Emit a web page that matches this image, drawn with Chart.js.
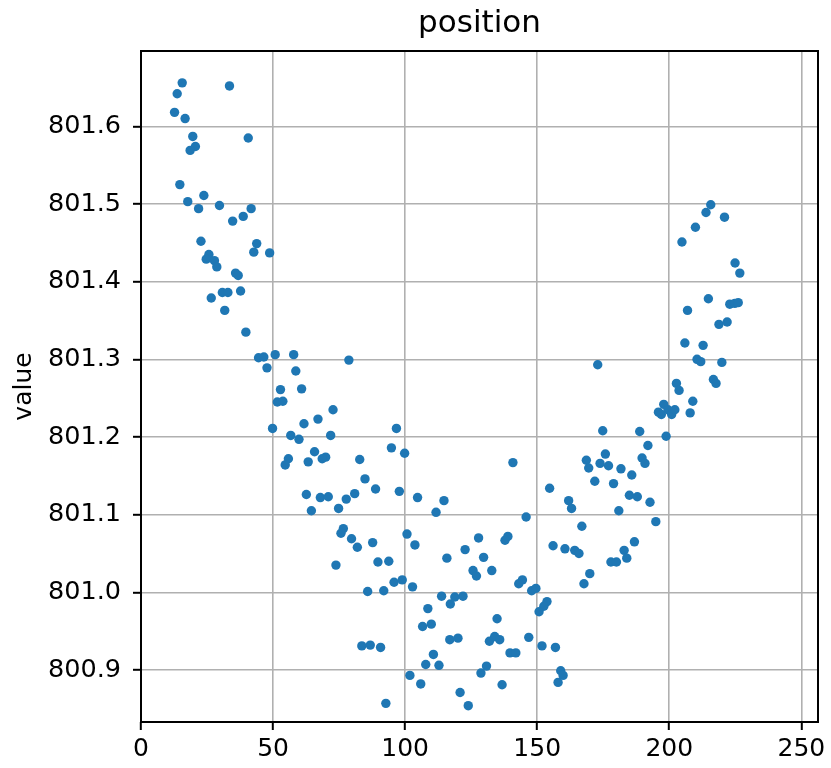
<!DOCTYPE html>
<html>
<head>
<meta charset="utf-8">
<script src="https://cdn.jsdelivr.net/npm/chart.js@4"></script>
<style>
html, body { margin: 0; padding: 0; background: #fff; }
</style>
</head>
<body>
<canvas id="chart" width="831" height="768"></canvas>
<script>
// values
const xValues = [
    15.6, 33.5, 13.7, 12.7, 16.7, 19.6, 20.6, 18.6, 40.6, 14.7, 17.7, 23.8, 21.8, 29.7, 41.7, 38.7,
    34.7, 22.7, 43.8, 42.7, 48.7, 25.7, 24.7, 27.8, 28.7, 35.8, 36.8, 26.6, 30.8, 32.9, 37.7,
    31.7, 39.7, 44.5, 46.5, 50.8, 57.8, 47.7, 58.6, 52.8, 60.8, 51.6, 53.7, 49.8, 61.7, 56.7, 59.8,
    55.8, 54.6, 63.3, 62.6, 64.5,
    78.7, 72.7, 67.0, 71.8, 96.7, 94.8, 99.8, 65.7, 69.9, 68.6, 82.8, 84.8, 88.8, 97.8, 104.7, 114.7,
    111.7, 67.9, 70.9, 80.9, 77.7, 74.8, 76.6,
    75.7, 79.7, 81.9, 87.7, 100.7, 103.7, 115.8, 73.8, 89.7, 93.8, 95.8, 98.9, 102.8, 85.8, 91.9, 113.8,
    117.1, 108.6, 106.6, 109.9, 116.9, 83.6, 86.8, 90.7, 110.7, 107.8, 112.8, 101.8, 105.9, 92.7,
    140.8, 154.7, 168.6, 169.5, 161.9, 163.0, 166.9, 145.8, 127.8, 138.9,
    137.8, 122.7, 129.7, 156.0, 160.5, 164.2, 165.8, 125.7, 127.0, 132.8, 144.4, 143.0, 167.7, 169.9,
    147.9, 149.5, 118.8, 121.9, 153.7, 152.5, 150.7, 134.8, 120.0, 131.9, 133.9, 135.8, 146.8, 151.8,
    156.9, 139.7, 141.9, 130.8, 128.7, 158.9, 159.8, 157.9, 136.7, 120.8, 123.9,
    205.9, 212.8, 210.5, 211.9, 219.9, 172.9, 216.7, 217.7, 202.7, 203.7, 208.9, 197.9, 195.9, 197.0,
    199.5, 200.9, 202.1, 207.9, 174.8, 188.8, 198.8, 191.9, 175.8, 173.8, 177.0, 189.7, 190.8, 181.7,
    185.8, 171.8, 178.9, 184.9, 187.9, 192.7, 180.9, 194.9,
    186.8, 182.9, 183.9, 177.9, 180.0,
    215.7, 213.9, 220.9, 209.9, 204.8, 224.9, 226.7, 214.8, 206.9, 222.9, 224.8, 226.1, 218.8, 221.9
];

const yValues = [
    801.656, 801.652, 801.642, 801.618, 801.610, 801.587, 801.574, 801.569, 801.585, 801.525, 801.503, 801.511, 801.494, 801.498, 801.494, 801.484,
    801.478, 801.452, 801.449, 801.438, 801.437, 801.435, 801.429, 801.427, 801.419, 801.411, 801.408, 801.379, 801.386, 801.386, 801.388,
    801.363, 801.335, 801.302, 801.303, 801.306, 801.306, 801.289, 801.285, 801.261, 801.262, 801.245, 801.246, 801.211, 801.217, 801.202, 801.197,
    801.172, 801.164, 801.168, 801.126, 801.105,
    801.299, 801.235, 801.223, 801.202, 801.211, 801.186, 801.179, 801.181, 801.174, 801.172, 801.171, 801.146, 801.133, 801.130, 801.122, 801.118,
    801.103, 801.122, 801.123, 801.127, 801.120, 801.108, 801.082,
    801.076, 801.069, 801.058, 801.064, 801.075, 801.061, 801.044, 801.035, 801.039, 801.040, 801.013, 801.016, 801.007, 801.001, 801.002, 800.995,
    800.985, 800.979, 800.956, 800.959, 800.939, 800.931, 800.932, 800.929, 800.920, 800.907, 800.906, 800.893, 800.882, 800.857,
    801.167, 801.134, 801.170, 801.160, 801.118, 801.108, 801.085, 801.097, 801.070, 801.072,
    801.067, 801.055, 801.045, 801.060, 801.056, 801.054, 801.050, 801.028, 801.021, 801.028, 801.016, 801.011, 801.011, 801.024,
    801.002, 801.005, 800.994, 800.995, 800.988, 800.982, 800.975, 800.966, 800.941, 800.937, 800.943, 800.939, 800.942, 800.931,
    800.929, 800.922, 800.922, 800.905, 800.896, 800.899, 800.893, 800.884, 800.881, 800.871, 800.854,
    801.321, 801.318, 801.300, 801.297, 801.296, 801.293, 801.274, 801.269, 801.269, 801.260, 801.246, 801.242, 801.232, 801.229,
    801.235, 801.229, 801.235, 801.231, 801.208, 801.207, 801.201, 801.189, 801.178, 801.166, 801.163, 801.173, 801.166, 801.159,
    801.151, 801.143, 801.140, 801.125, 801.123, 801.116, 801.105, 801.091,
    801.065, 801.054, 801.044, 801.039, 801.039,
    801.499, 801.489, 801.483, 801.470, 801.451, 801.424, 801.411, 801.378, 801.363, 801.371, 801.372, 801.373, 801.345, 801.348
];

const xTicks = [0, 50, 100, 150, 200, 250];
const yTicks = [800.9, 801.0, 801.1, 801.2, 801.3, 801.4, 801.5, 801.6];
const chartTitle = 'position';

const FONT = 'DejaVu Sans';

// black box round the plot area, and the title centred over the plot (matplotlib style)
const framePlugin = {
    id: 'frame',
    afterDraw(chart) {
        const a = chart.chartArea;
        const ctx = chart.ctx;
        ctx.save();
        ctx.strokeStyle = '#000';
        ctx.lineWidth = 2;
        ctx.strokeRect(a.left, a.top, a.right - a.left, a.bottom - a.top);

        ctx.fillStyle = '#000';
        ctx.font = '31px "' + FONT + '"';
        ctx.textAlign = 'center';
        ctx.textBaseline = 'middle';
        ctx.fillText(chartTitle, (a.left + a.right) / 2, 24);
        ctx.restore();
    }
};

const gridOpts = {
    color: '#b0b0b0',
    lineWidth: 1.6,
    tickColor: '#000',
    tickLength: 8,
    tickWidth: 2
};

new Chart(document.getElementById('chart').getContext('2d'), {
    type: 'scatter',
    data: {
        datasets: [{
            data: xValues.map((x, i) => ({ x, y: yValues[i] })),
            backgroundColor: '#1f77b4',
            borderWidth: 0,
            pointRadius: 4.7
        }]
    },
    options: {
        responsive: false,
        animation: false,
        layout: { padding: { left: 0, right: 13, top: 51, bottom: 0 } },
        plugins: {
            legend: { display: false },
            tooltip: { enabled: false },
            title: { display: false }
        },
        scales: {
            x: {
                type: 'linear',
                min: 0,
                max: 256.3,
                afterBuildTicks: s => { s.ticks = xTicks.map(v => ({ value: v })); },
                afterFit: s => { s.height = 46; s.paddingLeft = 0; s.paddingRight = 0; },
                grid: gridOpts,
                border: { display: false },
                ticks: {
                    color: '#000',
                    font: { family: FONT, size: 25 },
                    padding: 4,
                    maxRotation: 0,
                    callback: v => String(v)
                }
            },
            y: {
                type: 'linear',
                min: 800.833,
                max: 801.697,
                afterBuildTicks: s => { s.ticks = yTicks.map(v => ({ value: v })); },
                afterFit: s => { s.width = 141; s.paddingTop = 0; s.paddingBottom = 0; },
                grid: gridOpts,
                border: { display: false },
                title: {
                    display: true,
                    text: 'value',
                    color: '#000',
                    font: { family: FONT, size: 25, lineHeight: 1.2 },
                    padding: { top: 9, bottom: 0 }
                },
                ticks: {
                    color: '#000',
                    font: { family: FONT, size: 25.5 },
                    padding: 12,
                    callback: v => v.toFixed(1)
                }
            }
        }
    },
    plugins: [framePlugin]
});
</script>
</body>
</html>
